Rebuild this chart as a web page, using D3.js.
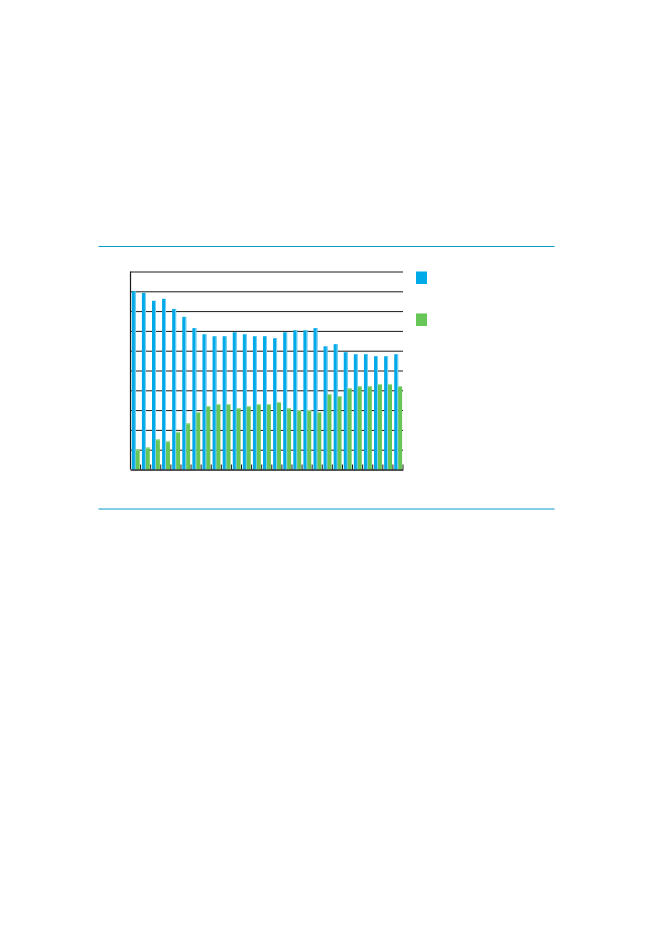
<!DOCTYPE html>
<html>
<head>
<meta charset="utf-8">
<script src="https://cdn.jsdelivr.net/npm/d3@7"></script>
<style>
  html, body { margin: 0; padding: 0; background: #fff; }
  svg { display: block; }
</style>
</head>
<body>
<svg id="viz_area" width="661" height="933"></svg>
<script>
// values (grid every 10 units, 0..100)
const groups = d3.range(1, 28);
const blueValues = [90, 89.2, 85.2, 86.2, 81.1, 77.1, 71.4, 68.3, 67.3, 67.3,
                    69.3, 68.3, 67.3, 67.3, 66.3, 69.3, 70.3, 70.3, 71.4, 62.2,
                    63.3, 59.2, 58.2, 58.2, 57.2, 57.2, 58.2];
const greenValues = [10.1, 11.1, 15.2, 14.2, 19.0, 23.3, 29.0, 32.0, 33.0, 33.0,
                     31.0, 32.0, 33.0, 33.0, 34.1, 31.0, 30.0, 30.0, 29.0, 38.1,
                     37.1, 41.1, 42.1, 42.1, 43.2, 43.2, 42.1];
const gridTicks = d3.range(0, 101, 10);

const blue = "#00a9e8", blueLight = "#7fd3f3";
const green = "#66c757", greenLight = "#a8e09f";
const ruleColor = "#0a9ac8";

const svg = d3.select("#viz_area");

// horizontal rules framing the figure
svg.append("line").attr("x1", 98.5).attr("x2", 554.5).attr("y1", 246.5).attr("y2", 246.5)
    .attr("stroke", ruleColor).attr("stroke-width", 1.2);
svg.append("line").attr("x1", 98.5).attr("x2", 554.5).attr("y1", 509).attr("y2", 509)
    .attr("stroke", ruleColor).attr("stroke-width", 1.2);

var margin = {left: 130.5, top: 271.5},
    width = 272.5,
    height = 198;

const g = svg.append("g")
    .attr("transform", "translate(" + margin.left + "," + margin.top + ")");

const x = d3.scaleBand().range([0, width]).domain(groups).padding(0);
const y = d3.scaleLinear().domain([0, 100]).range([height, 0]);

// gridlines
g.append("g")
    .call(d3.axisRight(y).tickValues(gridTicks).tickSize(width).tickFormat(""))
    .call(s => s.select(".domain").remove())
    .selectAll("line").attr("stroke", "#1a1a1a").attr("stroke-width", 1);

const bw = x.bandwidth();
const barW = bw * 0.39, off = bw * 0.13;

// blue bars
g.selectAll(".blue")
    .data(blueValues)
    .enter()
    .append("rect")
    .attr("x", (d, i) => x(groups[i]) + off)
    .attr("y", d => y(d))
    .attr("width", barW)
    .attr("height", d => height - y(d))
    .attr("fill", blue);
g.selectAll(".blueHi")
    .data(blueValues)
    .enter()
    .append("rect")
    .attr("x", (d, i) => x(groups[i]) + off + barW - 1)
    .attr("y", d => y(d))
    .attr("width", 1)
    .attr("height", d => height - y(d))
    .attr("fill", blueLight);

// green bars
g.selectAll(".green")
    .data(greenValues)
    .enter()
    .append("rect")
    .attr("x", (d, i) => x(groups[i]) + off + barW)
    .attr("y", d => y(d))
    .attr("width", barW)
    .attr("height", d => height - y(d))
    .attr("fill", green);
g.selectAll(".greenHi")
    .data(greenValues)
    .enter()
    .append("rect")
    .attr("x", (d, i) => x(groups[i]) + off + barW)
    .attr("y", d => y(d))
    .attr("width", barW)
    .attr("height", 1)
    .attr("fill", greenLight);

// axes
g.append("line").attr("x1", 0).attr("x2", 0).attr("y1", 0).attr("y2", height)
    .attr("stroke", "#1a1a1a").attr("stroke-width", 1.2);
g.append("g")
    .attr("transform", "translate(0," + height + ")")
    .call(d3.axisBottom(x).tickSizeInner(-5).tickSizeOuter(0).tickFormat(""))
    .call(s => s.select(".domain").attr("stroke", "#1a1a1a").attr("stroke-width", 1.2))
    .selectAll(".tick line")
    .attr("transform", "translate(" + (bw / 2) + ",0)")
    .attr("stroke", "#1a1a1a");

// legend swatches
svg.append("rect").attr("x", 416).attr("y", 271).attr("width", 11).attr("height", 13).attr("fill", blue);
svg.append("rect").attr("x", 416).attr("y", 271).attr("width", 11).attr("height", 1).attr("fill", blueLight);
svg.append("rect").attr("x", 416).attr("y", 313).attr("width", 11).attr("height", 13).attr("fill", green);
svg.append("rect").attr("x", 416).attr("y", 313).attr("width", 11).attr("height", 1).attr("fill", greenLight);
</script>
</body>
</html>
